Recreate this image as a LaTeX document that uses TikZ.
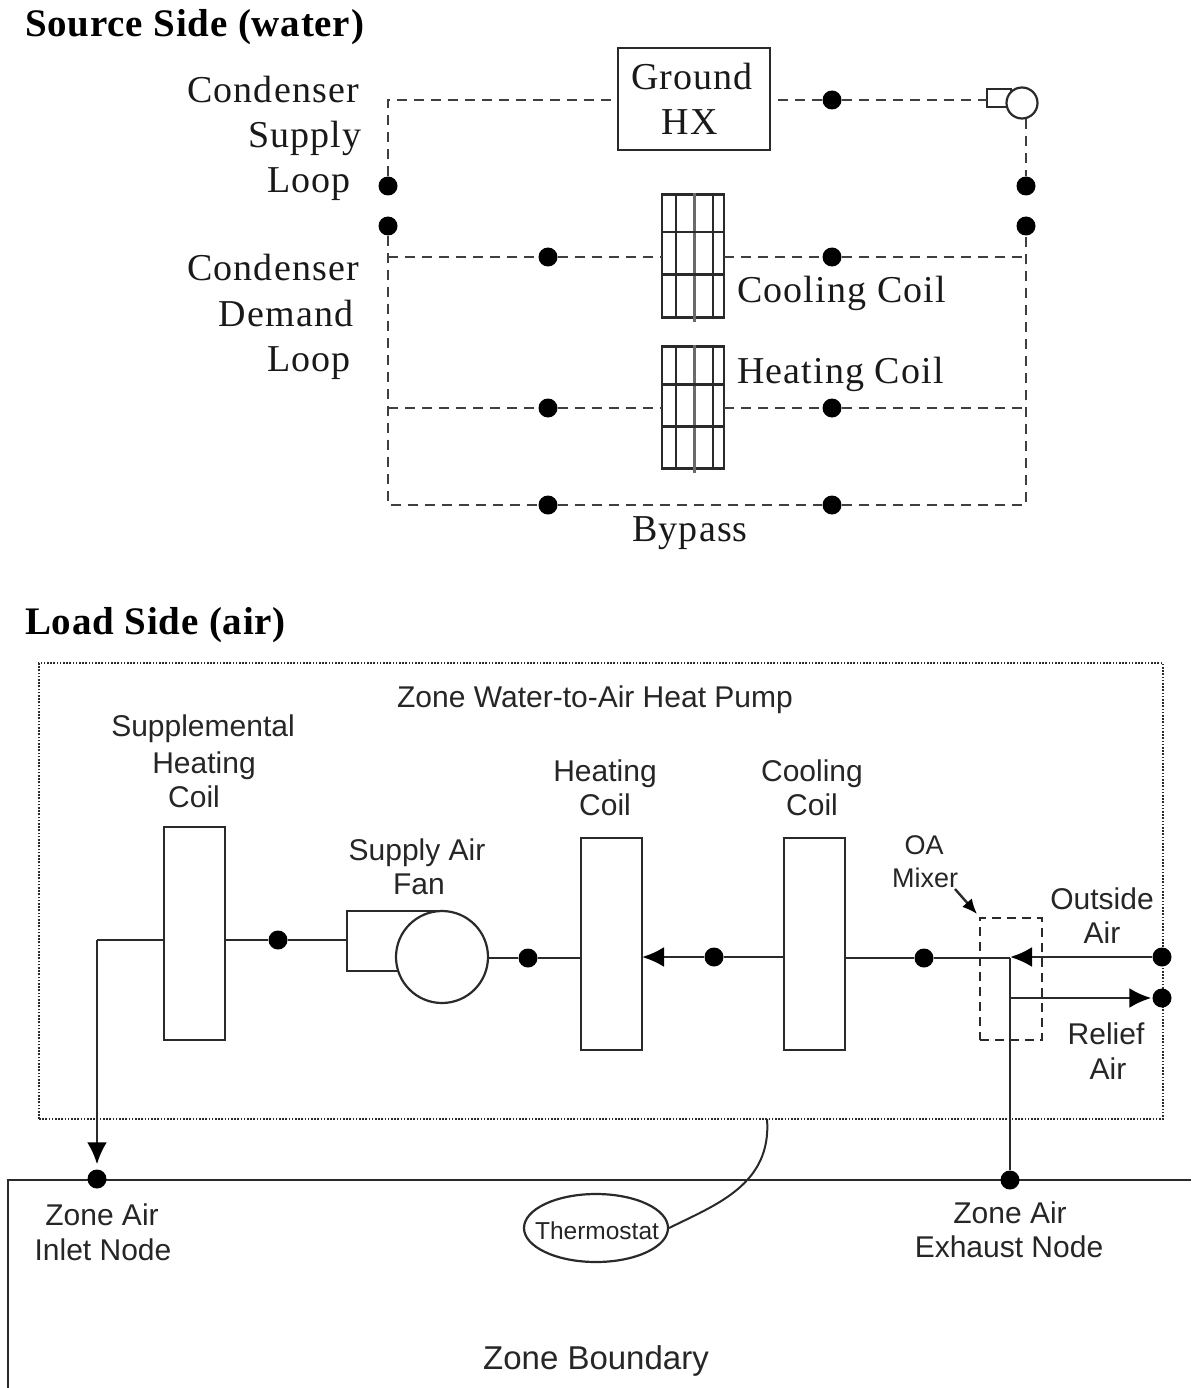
\documentclass[tikz,border=0pt]{standalone}
\usepackage{fontspec}
\setmainfont{Liberation Sans}
\newfontfamily\srf[LetterSpace=3]{Liberation Serif}
\newfontfamily\srfb[LetterSpace=2]{Liberation Serif}
\usetikzlibrary{shapes.geometric,arrows.meta,calc}
\definecolor{ln}{HTML}{2A2A2A}
\tikzset{
 x=1pt,y=-1pt,
 sr/.style={inner sep=0pt,font=\srf\fontsize{38}{38}\selectfont,text=black!90},
 hd/.style={inner sep=0pt,anchor=west,font=\srfb\bfseries\fontsize{39}{39}\selectfont},
 ss/.style={inner sep=0pt,font=\fontsize{30}{30}\selectfont,text=black!85},
 dot/.style={circle,fill=black,draw=none,minimum size=19pt,inner sep=0pt},
 dashline/.style={draw=ln!90,line width=2.6pt,dash pattern=on 10pt off 7pt},
 solid line/.style={draw=ln,line width=2.8pt},
 box/.style={rectangle,draw=ln,line width=2.2pt,inner sep=0pt,fill=white},
 thin box/.style={draw=ln,line width=2.2pt},
 tip/.style={-{Latex[length=22pt,width=20pt]},>={Latex[black]}},
}
\begin{document}
\begin{tikzpicture}
\useasboundingbox (0,0) rectangle (1191,1388);
% ---------- source side text
\node[hd] (tsrc) at (25,27) {Source Side (water)};
\node[sr] (tc1) at (273,90) {Condenser};
\node[sr] (tc2) at (305,138) {Supply};
\node[sr] (tc3) at (309,184) {Loop};
\node[sr] (td1) at (273,268) {Condenser};
\node[sr] (td2) at (286,314) {Demand};
\node[sr] (td3) at (309,363) {Loop};
% ---------- source side nodes
\node[box,minimum width=152pt,minimum height=102pt] (hx) at (694,99) {};
\node[sr] (hx1) at (692,77) {Ground};
\node[sr] (hx2) at (690,122) {HX};
\node[box,minimum width=62pt,minimum height=123pt] (cc) at (693,256) {};
\node[box,minimum width=62pt,minimum height=122pt] (hc) at (693,407.5) {};
\foreach \n in {cc,hc}{
  \draw[thin box] ($(\n.north west)+(15,0)$) -- ($(\n.south west)+(15,0)$);
  \draw[draw=ln!70,line width=3pt] ($(\n.north)+(1,0)$) -- ($(\n.south)+(1,3)$);
  \draw[thin box] ($(\n.north east)+(-12,0)$) -- ($(\n.south east)+(-12,0)$);
  \draw[thin box] ($(\n.north west)+(0,39)$) -- ($(\n.north east)+(0,39)$);
  \draw[thin box] ($(\n.north west)+(0,81)$) -- ($(\n.north east)+(0,81)$);
}
\node[sr,anchor=west] (tcc) at (737,293) {Cooling Coil};
\node[sr,anchor=west] (thc) at (737,374) {Heating Coil};
\node[sr] (tby) at (690,533) {Bypass};
\node[dot] (a1) at (832,100) {};
\node[dot] (lu) at (388,186) {};
\node[dot] (ld) at (388,226) {};
\node[dot] (ru) at (1026,186) {};
\node[dot] (rd) at (1026,226) {};
\node[dot] (b1) at (548,257) {};
\node[dot] (b2) at (832,257) {};
\node[dot] (c1) at (548,408) {};
\node[dot] (c2) at (832,408) {};
\node[dot] (e1) at (548,505) {};
\node[dot] (e2) at (832,505) {};
\coordinate (tl) at (388,100);
\coordinate (bl) at (388,505);
\coordinate (br) at (1026,505);
\coordinate (jl1) at (388,257);
\coordinate (jr1) at (1026,257);
\coordinate (jl2) at (388,408);
\coordinate (jr2) at (1026,408);
\coordinate (cl) at (662,257);
\coordinate (cr) at (724,257);
\coordinate (hl) at (662,408);
\coordinate (hr) at (724,408);
\coordinate (pout) at (1026,119);
\coordinate (hxl) at (612,100);
\coordinate (hxr) at (778,100);
% pump
\node[box,minimum width=24pt,minimum height=18pt] (pr) at (999,98) {};
\coordinate (pin) at (987,100);
\node[circle,draw=ln,line width=2.2pt,fill=white,minimum size=31pt,inner sep=0pt] (pc) at (1022,103) {};
\draw[dashline] (lu) -- (tl) -- (hxl);
\draw[dashline] (hxr) -- (a1) -- (pin);
\draw[dashline] (pout) -- (ru);
\draw[dashline] (ld) -- (bl) -- (e1) -- (e2) -- (br) -- (rd);
\draw[dashline] (jl1) -- (b1) -- (cl);
\draw[dashline] (cr) -- (b2) -- (jr1);
\draw[dashline] (jl2) -- (c1) -- (hl);
\draw[dashline] (hr) -- (c2) -- (jr2);
% ---------- load side
\node[hd] (tload) at (25,625) {Load Side (air)};
\node[rectangle,draw=ln,line width=1.6pt,dash pattern=on 1.6pt off 1.6pt,minimum width=1124pt,minimum height=456pt,inner sep=0pt] (unit) at (601,891) {};
\node[ss] (tunit) at (595,700) {Zone Water-to-Air Heat Pump};
\node[ss] (ts1) at (203,729) {Supplemental};
\node[ss] (ts2) at (204,766) {Heating};
\node[ss] (ts3) at (194,797) {Coil};
\node[ss] (th1) at (605,774) {Heating};
\node[ss] (th2) at (605,805) {Coil};
\node[ss] (tk1) at (812,774) {Cooling};
\node[ss] (tk2) at (812,805) {Coil};
\node[ss] (tf1) at (417,853) {Supply Air};
\node[ss] (tf2) at (419,884) {Fan};
\node[ss,font=\fontsize{27}{27}\selectfont] (tm1) at (924,845) {OA};
\node[ss,font=\fontsize{27}{27}\selectfont] (tm2) at (925,878) {Mixer};
\node[ss] (to1) at (1102,899) {Outside};
\node[ss] (to2) at (1102,933) {Air};
\node[ss] (tr1) at (1106,1034) {Relief};
\node[ss] (tr2) at (1108,1069) {Air};
\node[ss] (tz1) at (102,1215) {Zone Air};
\node[ss] (tz2) at (103,1250) {Inlet Node};
\node[ss] (tx1) at (1010,1213) {Zone Air};
\node[ss] (tx2) at (1009,1247) {Exhaust Node};
\node[ss,font=\fontsize{33}{33}\selectfont] (tzb) at (596,1361) {Zone Boundary};
% zone boundary
\coordinate (zr) at (1191,1180);
\coordinate (zl) at (8,1180);
\coordinate (zb) at (8,1388);
\draw[solid line,line width=2.4pt] (zr) -- (zl) -- (zb);
% components
\node[box,minimum width=61pt,minimum height=213pt] (sup) at (194.5,933.5) {};
\node[box,minimum width=61pt,minimum height=212pt] (hcoil) at (611.5,944) {};
\node[box,minimum width=61pt,minimum height=212pt] (ccoil) at (814.5,944) {};
\coordinate (ftl) at (347,911);
\coordinate (fbl) at (347,971);
\coordinate (ftr) at (442,911);
\coordinate (fbr) at (405,971);
\draw[thin box] (ftr) -- (ftl) -- (fbl) -- (fbr);
\node[circle,draw=ln,line width=2.2pt,fill=white,minimum size=92pt,inner sep=0pt] (fan) at (442,957) {};
\node[rectangle,draw=ln,line width=2.2pt,dash pattern=on 9pt off 6pt,minimum width=62pt,minimum height=122pt,inner sep=0pt] (mix) at (1011,979) {};
\node[dot] (n1) at (278,940) {};
\node[dot] (n2) at (528,958) {};
\node[dot] (n3) at (714,957) {};
\node[dot] (n4) at (924,958) {};
\node[dot] (oa) at (1162,957) {};
\node[dot] (ra) at (1162,998) {};
\node[dot] (zin) at (97,1179) {};
\node[dot] (zex) at (1010,1180) {};
\coordinate (corner) at (97,940);
\coordinate (supl) at (164,940);
\coordinate (supr) at (225,940);
\coordinate (fl) at (347,940);
\coordinate (fr) at (488,958);
\coordinate (hl2) at (581,958);
\coordinate (hr2) at (642,957);
\coordinate (cl2) at (784,957);
\coordinate (cr2) at (845,958);
\coordinate (mj) at (1010,958);
\coordinate (oj) at (1010,957);
\coordinate (rj) at (1010,998);
\coordinate (mt) at (955,889);
\coordinate (mh) at (977,914);
\tikzset{arr/.style={-{Latex[length=22pt,width=20pt,black]}}}
\draw[solid line] (supl) -- (corner);
\draw[solid line,arr,shorten >=5pt] (corner) -- (zin);
\draw[solid line] (supr) -- (n1) -- (fl);
\draw[solid line] (fr) -- (n2) -- (hl2);
\draw[solid line,arr] (cl2) -- (n3) -- (hr2);
\draw[solid line] (cr2) -- (n4) -- (mj);
\draw[solid line,arr] (oa) -- (oj);
\draw[solid line] (mj) -- (zex);
\draw[solid line,arr,shorten >=1pt] (rj) -- (ra);
\draw[draw=ln,line width=2.4pt,-{Latex[length=15pt,width=13pt,black]}] (mt) -- (mh);
% thermostat
\node[ellipse,draw=ln,line width=2.2pt,minimum width=144pt,minimum height=68pt,inner sep=0pt] (ts) at (596,1228) {};
\node[ss,font=\fontsize{24.5}{24.5}\selectfont] (tts) at (597,1231) {Thermostat};
\coordinate (uc) at (767,1119);
\draw[draw=ln,line width=2pt] (ts.east) .. controls (715,1205) and (772,1185) .. (uc);
\end{tikzpicture}
\end{document}
